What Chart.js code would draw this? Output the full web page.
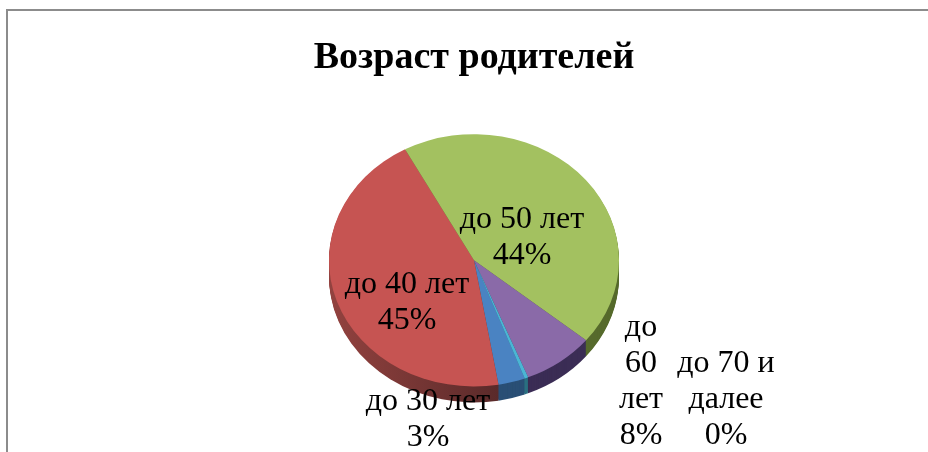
<!DOCTYPE html>
<html>
<head>
<meta charset="utf-8">
<script src="https://cdn.jsdelivr.net/npm/chart.js@4"></script>
<style>
html, body { margin: 0; padding: 0; background: #fff; overflow: hidden; }
canvas { display: block; }
</style>
</head>
<body>
<canvas id="pie" width="928" height="452"></canvas>
<script>
const categories = ['до 30 лет', 'до 40 лет', 'до 50 лет', 'до 60 лет', 'до 70 и далее'];
const values = [3, 45, 44, 8, 0.4];
const percentLabels = ['3%', '45%', '44%', '8%', '0%'];
const wrappedNames = [['до 30 лет'], ['до 40 лет'], ['до 50 лет'], ['до', '60', 'лет'], ['до 70 и', 'далее']];
const sliceColors = ['#4a83c2', '#c65452', '#a3c160', '#8a6aa8', '#4bb5d4'];
const sideColors = ['#2a4f75', '#72322f', '#566a2c', '#3b2d55', '#2a7080'];

const FONT = '"Liberation Serif", "Times New Roman", serif';
const TILT = 0.87;
const DEPTH = 16;
const LINE_H = 36;
// centre x and y of the first line for each label
const labelAnchors = [[428, 402], [407, 285], [522, 220], [641, 328], [726, 364]];

const framePlugin = {
    id: 'frame',
    beforeDraw(chart) {
        const ctx = chart.ctx;
        ctx.save();
        ctx.strokeStyle = '#8c8c8c';
        ctx.lineWidth = 2;
        ctx.beginPath();
        ctx.moveTo(7, 452);
        ctx.lineTo(7, 10);
        ctx.lineTo(928, 10);
        ctx.stroke();
        ctx.restore();
    }
};

const tiltPlugin = {
    id: 'tilt',
    beforeDatasetsDraw(chart) {
        const ctx = chart.ctx;
        const arcs = chart.getDatasetMeta(0).data;
        const cx = arcs[0].x;
        const cy = arcs[0].y;
        ctx.save();
        ctx.translate(cx, cy);
        ctx.scale(1, TILT);
        ctx.translate(-cx, -cy);
        // the red side gets darker towards the front of the pie
        const redSide = ctx.createLinearGradient(cx - 145, 0, cx + 25, 0);
        redSide.addColorStop(0, '#93423f');
        redSide.addColorStop(1, '#5a2a2a');
        for (let d = DEPTH; d > 0; d--) {
            arcs.forEach((arc, i) => {
                ctx.fillStyle = i === 1 ? redSide : sideColors[i];
                ctx.beginPath();
                ctx.moveTo(cx, cy + d / TILT);
                ctx.arc(cx, cy + d / TILT, arc.outerRadius, arc.startAngle, arc.endAngle);
                ctx.closePath();
                ctx.fill();
            });
        }
    },
    afterDatasetsDraw(chart) {
        const ctx = chart.ctx;
        ctx.restore();
        ctx.save();
        ctx.fillStyle = '#000';
        ctx.font = '32px ' + FONT;
        ctx.textAlign = 'center';
        ctx.textBaseline = 'middle';
        categories.forEach((name, i) => {
            const lines = wrappedNames[i].concat(percentLabels[i]);
            lines.forEach((line, n) => {
                ctx.fillText(line, labelAnchors[i][0], labelAnchors[i][1] + n * LINE_H);
            });
        });
        ctx.restore();
    }
};

new Chart(document.getElementById('pie'), {
    type: 'pie',
    data: {
        labels: categories,
        datasets: [{
            data: values,
            backgroundColor: sliceColors,
            borderWidth: 0,
            radius: 145
        }]
    },
    options: {
        responsive: false,
        animation: false,
        rotation: 159.5,
        layout: { padding: { left: 20, right: 0, top: 0, bottom: 12 } },
        plugins: {
            legend: { display: false },
            tooltip: { enabled: false },
            title: {
                display: true,
                text: 'Возраст родителей',
                color: '#000',
                font: { family: FONT, size: 38, weight: 'bold' },
                padding: { top: 35, bottom: 0 }
            }
        }
    },
    plugins: [framePlugin, tiltPlugin]
});
</script>
</body>
</html>
